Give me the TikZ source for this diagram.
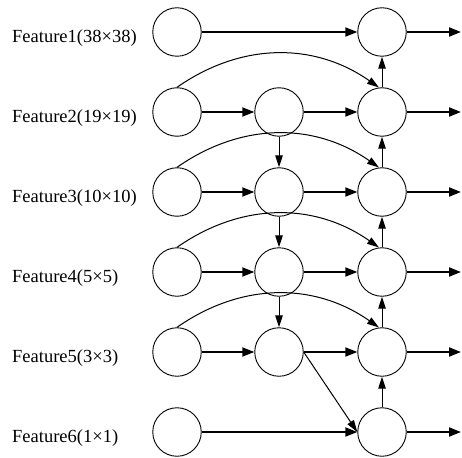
\documentclass[tikz,border=0pt]{standalone}
\usepackage{fontspec}
\setmainfont{Liberation Serif}
\usetikzlibrary{arrows.meta}
\begin{document}
\begin{tikzpicture}[x=1pt,y=-1pt,
  fnode/.style={circle,draw,line width=0.9pt,minimum size=48.5pt,inner sep=0pt},
  flow/.style={-{Triangle[length=12pt,width=9pt]},line width=1.8pt},
  link/.style={-{Triangle[length=12pt,width=7.5pt]},line width=1pt},
  lbl/.style={anchor=base west,font=\fontsize{18.5}{20}\selectfont,inner sep=0pt}]
\useasboundingbox (0,0) rectangle (462,457);

% feature rows: label, first column, fused column, output
\foreach \i/\txt in {1/Feature1(38×38),2/Feature2(19×19),3/Feature3(10×10),
                     4/Feature4(5×5),5/Feature5(3×3),6/Feature6(1×1)} {
  \pgfmathsetmacro{\yy}{32+80*(\i-1)}
  \node[lbl] (l\i) at (12,\yy+10.5) {\txt};
  \node[fnode] (a\i) at (177,\yy) {};
  \node[fnode] (c\i) at (382,\yy) {};
  \coordinate (o\i) at (461,\yy);
  \draw[flow] (c\i) -- (o\i);
}

% middle column for rows 2-5
\foreach \i in {2,...,5} {
  \pgfmathsetmacro{\yy}{32+80*(\i-1)}
  \node[fnode] (b\i) at (279,\yy) {};
}

% horizontal flows
\draw[flow] (a1) -- (c1);
\draw[flow] (a6) -- (c6);
\foreach \i in {2,...,5} {
  \draw[flow] (a\i) -- (b\i);
  \draw[flow] (b\i) -- (c\i);
  \draw[link] (a\i.north) to[bend left=35] (c\i.97);
}

% top-down path in the middle column
\foreach \i/\j in {2/3,3/4,4/5} {
  \draw[link] (b\i.south) -- (b\j.north);
}

% bottom-up path in the fused column
\foreach \i/\j in {6/5,5/4,4/3,3/2,2/1} {
  \draw[link] (c\i.north) -- (c\j.south);
}

% diagonal shortcut
\draw[link] (b5.east) -- (c6.west);
\end{tikzpicture}
\end{document}
